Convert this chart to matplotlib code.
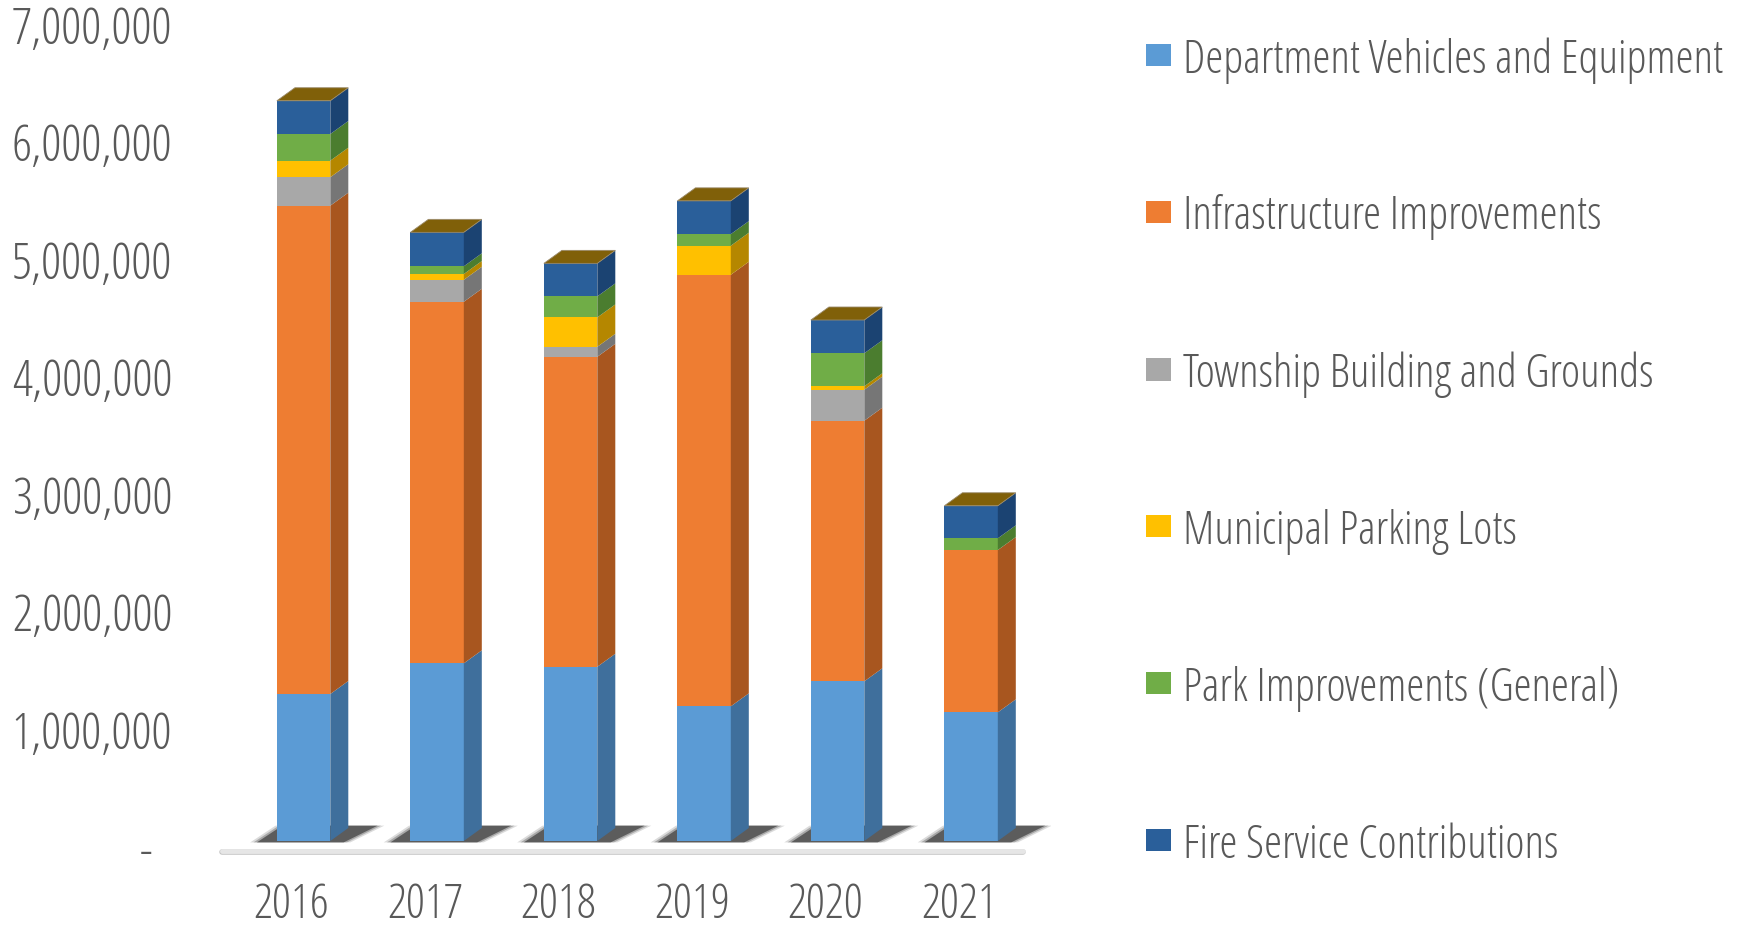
import matplotlib.pyplot as plt
import matplotlib.transforms as mtransforms
from matplotlib.patches import Polygon, Patch
import numpy as np

# Dados
anos = ["2016", "2017", "2018", "2019", "2020", "2021"]
categorias = ["Department Vehicles and Equipment", "Infrastructure Improvements",
              "Township Building and Grounds", "Municipal Parking Lots",
              "Park Improvements (General)", "Fire Service Contributions"]

dept_vehicles = [1251000, 1512000, 1483000, 1146000, 1359000, 1095000]
infrastructure = [4156000, 3077000, 2638000, 3673000, 2218000, 1381000]
township = [242000, 187000, 85000, 0, 264000, 0]
parking = [141000, 49000, 250000, 247000, 29000, 0]
parks = [227000, 66000, 179000, 99000, 281000, 100000]
fire = [283000, 289000, 281000, 283000, 283000, 277000]

series = [dept_vehicles, infrastructure, township, parking, parks, fire]

cores = ["#5b9bd5", "#ee7d32", "#a8a8a8", "#ffc000", "#70ad47", "#2a5f9a"]
cores_lado = ["#3f6f9c", "#a8561f", "#767676", "#b58700", "#4b7d2f", "#1b4372"]
cor_topo = "#806009"
cor_texto = "#595959"

plt.rcParams['font.family'] = ['Open Sans', 'DejaVu Sans']
plt.rcParams['font.stretch'] = 'condensed'
plt.rcParams['font.weight'] = 'medium'

fig = plt.figure(figsize=(17.44, 9.29), dpi=100)
# zero em y=842 px (de cima), 117.5 px por milhao
px_m = 117.5
ymin, ymax = -0.3e6, 7.15e6
x_left, x_right = -0.89, 5.6
px_cat = 133.5
left_px = 303.6 + x_left * px_cat
bottom_px = 929 - 842 + ymin / 1e6 * px_m
ax = fig.add_axes([left_px / 1744, bottom_px / 929,
                   (x_right - x_left) * px_cat / 1744,
                   (ymax - ymin) / 1e6 * px_m / 929])

x = np.arange(len(anos))
width = 0.40
dx = 18 / px_cat
dy = 13 / px_m * 1e6

# linha do chao
y_chao = -10 / px_m * 1e6
ax.plot([-0.61, 5.39], [y_chao - 12000, y_chao - 12000], color="#c4c4c4", lw=4, solid_capstyle='round', zorder=1)
ax.plot([-0.61, 5.39], [y_chao, y_chao], color="#e6e6e6", lw=3.5, solid_capstyle='round', zorder=1.1)

# sombras
for i in x:
    xl, xr = i - width / 2, i + width / 2
    for k, a in enumerate([0.15, 0.25, 0.5]):
        e = (2 - k) * 0.025
        ax.add_patch(Polygon([(xl - 0.15 - e, -0.012e6), (xr + 0.10 + e, -0.012e6),
                              (xr + dx + 0.22 + e, dy + 0.02e6), (xl + 0.04 - e, dy + 0.02e6)],
                             closed=True, facecolor="#111111", edgecolor='none', alpha=a, zorder=2))

bottom = np.zeros(len(anos))
for vals, cor, cor_l, nome in zip(series, cores, cores_lado, categorias):
    vals = np.array(vals, dtype=float)
    ax.bar(x, vals, width, bottom=bottom, color=cor, label=nome, zorder=3)
    for i in x:
        if vals[i] <= 0:
            continue
        b, t = bottom[i], bottom[i] + vals[i]
        xr = i + width / 2
        ax.add_patch(Polygon([(xr, b), (xr + dx, b + dy), (xr + dx, t + dy), (xr, t)],
                             closed=True, facecolor=cor_l, edgecolor='none', zorder=3))
    bottom += vals

# topo das barras
for i in x:
    xl, xr = i - width / 2, i + width / 2
    T = bottom[i]
    ax.add_patch(Polygon([(xl, T), (xl + dx, T + dy), (xr + dx, T + dy), (xr, T)],
                         closed=True, facecolor=cor_topo, edgecolor='#9a8a6a', lw=0.6, zorder=4))

ax.set_xlim(x_left, x_right)
ax.set_ylim(ymin, ymax)
for s in ax.spines.values():
    s.set_visible(False)

ticks_y = np.arange(0, 8e6, 1e6)
ax.set_yticks(ticks_y)
ax.set_yticklabels(['-' if v == 0 else f'{int(v):,}' for v in ticks_y])
ax.tick_params(axis='y', length=0, pad=9, labelsize=36, labelcolor=cor_texto)
ax.set_xticks(x)
ax.set_xticklabels(anos)
ax.tick_params(axis='x', length=0, pad=3, labelsize=34, labelcolor=cor_texto)

off_y = mtransforms.ScaledTranslation(0, -5.5 / 100, fig.dpi_scale_trans)
off_zero = mtransforms.ScaledTranslation(-20 / 100, -5.5 / 100, fig.dpi_scale_trans)
for lab, v in zip(ax.get_yticklabels(), ticks_y):
    lab.set_transform(lab.get_transform() + (off_zero if v == 0 else off_y))
off_x = mtransforms.ScaledTranslation(-12 / 100, 0, fig.dpi_scale_trans)
for lab in ax.get_xticklabels():
    lab.set_transform(lab.get_transform() + off_x)

handles = [Patch(facecolor=c) for c in cores]
fig.legend(handles, categorias, loc='upper left', bbox_to_anchor=(1146 / 1744, 1 - 37 / 929),
           frameon=False, fontsize=33, labelcolor=cor_texto, labelspacing=2.42,
           handlelength=0.55, handleheight=0.37, handletextpad=0.25,
           borderpad=0, borderaxespad=0)

plt.savefig("out.png", dpi=100)
